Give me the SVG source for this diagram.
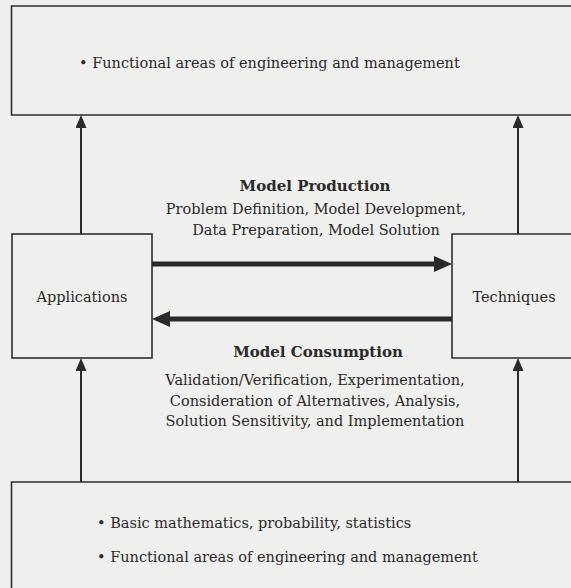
<svg xmlns="http://www.w3.org/2000/svg" width="571" height="588" viewBox="0 0 571 588">
<style>
.bg{fill:#efefed}
.box{fill:none;stroke:#2e2e2e;stroke-width:1.6}
.t{font-family:"DejaVu Serif","Liberation Serif",serif;font-size:14.5px;fill:#2a2a2a}
.b{font-family:"DejaVu Serif","Liberation Serif",serif;font-size:15px;font-weight:bold;fill:#2a2a2a}
.c{text-anchor:middle}
.thin{stroke:#2a2a2a;stroke-width:2;fill:none}
.thick{stroke:#2a2a2a;stroke-width:5;fill:none}
</style>
<defs>
<marker id="hs" markerUnits="userSpaceOnUse" viewBox="0 -5.5 13 11" refX="0" refY="0" markerWidth="13" markerHeight="11" orient="auto">
<path d="M0,-5.5 L13,0 L0,5.5 z" fill="#2a2a2a"/>
</marker>
<marker id="hl" markerUnits="userSpaceOnUse" viewBox="0 -8 18 16" refX="0" refY="0" markerWidth="18" markerHeight="16" orient="auto">
<path d="M0,-8 L18,0 L0,8 z" fill="#2a2a2a"/>
</marker>
</defs>
<rect class="bg" x="0" y="0" width="571" height="588"/>
<g id="top-box">
<path class="box" d="M575,6 H11.5 V115 H575"/>
<text class="t" x="79" y="68">• Functional areas of engineering and management</text>
</g>
<g id="applications">
<rect class="box" x="12" y="234" width="140" height="124"/>
<text class="t c" x="82" y="302">Applications</text>
</g>
<g id="techniques">
<path class="box" d="M575,234 H452 V358 H575"/>
<text class="t c" x="514" y="302">Techniques</text>
</g>
<g id="bottom-box">
<path class="box" d="M575,482 H11.5 V595"/>
<text class="t" x="97" y="528">• Basic mathematics, probability, statistics</text>
<text class="t" x="97" y="562">• Functional areas of engineering and management</text>
</g>
<g id="labels">
<text class="b c" x="315" y="191">Model Production</text>
<text class="t c" x="316" y="214">Problem Definition, Model Development,</text>
<text class="t c" x="316" y="235">Data Preparation, Model Solution</text>
<text class="b c" x="318" y="357">Model Consumption</text>
<text class="t c" x="315" y="385">Validation/Verification, Experimentation,</text>
<text class="t c" x="315" y="406">Consideration of Alternatives, Analysis,</text>
<text class="t c" x="315" y="426">Solution Sensitivity, and Implementation</text>
</g>
<g id="connectors">
<line class="thin" x1="81" y1="234" x2="81" y2="128" marker-end="url(#hs)"/>
<line class="thin" x1="518" y1="234" x2="518" y2="128" marker-end="url(#hs)"/>
<line class="thin" x1="81" y1="482" x2="81" y2="371" marker-end="url(#hs)"/>
<line class="thin" x1="518" y1="482" x2="518" y2="371" marker-end="url(#hs)"/>
<line class="thick" x1="152" y1="264" x2="434" y2="264" marker-end="url(#hl)"/>
<line class="thick" x1="452" y1="319" x2="170" y2="319" marker-end="url(#hl)"/>
</g>
</svg>
